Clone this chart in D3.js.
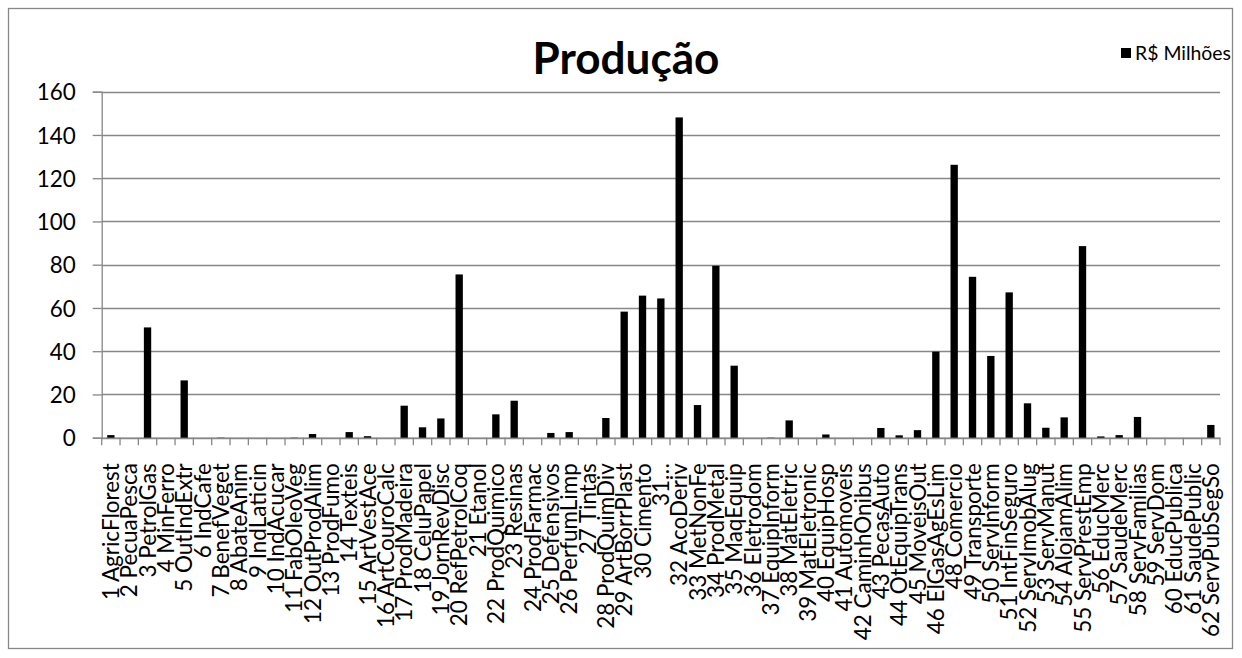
<!DOCTYPE html>
<html>
<head>
<meta charset="utf-8">
<script src="https://cdn.jsdelivr.net/npm/d3@7"></script>
<style>
  html, body { margin: 0; padding: 0; background: #fff; }
  svg { display: block; }
</style>
</head>
<body>
<svg id="chart" width="1242" height="658"></svg>
<script>
const categories = [
  "1 AgricFlorest","2 PecuaPesca","3 PetrolGas","4 MinFerro","5 OutIndExtr","6 IndCafe",
  "7 BenefVeget","8 AbateAnim","9 IndLaticin","10 IndAcucar","11 FabOleoVeg","12 OutProdAlim",
  "13 ProdFumo","14 Texteis","15 ArtVestAce","16 ArtCouroCalc","17 ProdMadeira","18 CeluPapel",
  "19 JornRevDisc","20 RefPetrolCoq","21 Etanol","22 ProdQuimico","23 Resinas","24 ProdFarmac",
  "25 Defensivos","26 PerfumLimp","27 Tintas","28 ProdQuimDiv","29 ArtBorrPlast","30 Cimento",
  "31…","32 AcoDeriv","33 MetNonFe","34 ProdMetal","35 MaqEquip","36 Eletrodom",
  "37 EquipInform","38 MatEletric","39 MatEletronic","40 EquipHosp","41 Automoveis","42 CaminhOnibus",
  "43 PecasAuto","44 OtEquipTrans","45 MoveisOut","46 ElGasAgEsLim","48 Comercio","49 Transporte",
  "50 ServInform","51 IntFinSeguro","52 ServImobAlug","53 ServManut","54 AlojamAlim","55 ServPrestEmp",
  "56 EducMerc","57 SaudeMerc","58 ServFamilias","59 ServDom","60 EducPublica","61 SaudePublic",
  "62 ServPubSegSo"
];
const values = [
  1.2, 0, 51.0, 0, 26.5, 0,
  0.1, 0, 0, 0, 0.1, 1.7,
  0, 2.6, 0.7, 0, 14.8, 4.8,
  8.9, 75.5, 0, 10.8, 17.1, 0,
  2.2, 2.6, 0, 9.1, 58.3, 65.7,
  64.4, 148.1, 15.1, 79.5, 33.3, 0,
  0.1, 8.0, 0, 1.5, 0, 0,
  4.5, 1.1, 3.5, 39.8, 126.2, 74.4,
  37.8, 67.2, 15.9, 4.6, 9.4, 88.6,
  0.6, 1.2, 9.6, 0, 0, 0,
  5.9
];
const yTicks = [0, 20, 40, 60, 80, 100, 120, 140, 160];
const titleText = "Produção";
const seriesName = "R$ Milhões";

const FONT = "Lato, 'Open Sans', sans-serif";
const GRID = "#878787";

const svg = d3.select("#chart");

// helper: set font-size so that text width matches target
function fitFont(sel, target) {
  sel.attr("font-size", 100);
  const w = sel.node().getComputedTextLength();
  const fs = 100 * target / w;
  sel.attr("font-size", fs);
  return fs;
}

// outer border
svg.append("rect")
  .attr("x", 8.5).attr("y", 8.5)
  .attr("width", 1224).attr("height", 640)
  .attr("fill", "#fff").attr("stroke", GRID).attr("stroke-width", 1.3);

const plot = { left: 101.7, right: 1220, top: 91.7, bottom: 437.7 };

const x = d3.scaleBand()
  .domain(categories)
  .range([plot.left, plot.right])
  .paddingInner(0.6).paddingOuter(0.3);

const y = d3.scaleLinear().domain([0, 160]).range([plot.bottom, plot.top]);

// measure font sizes
const probe = svg.append("text").attr("font-family", FONT).text("160");
const yFs = fitFont(probe, 39);
probe.text("1 AgricFlorest");
const xFs = fitFont(probe, 137);
probe.remove();

// gridlines
svg.append("g")
  .selectAll("line")
  .data(yTicks)
  .join("line")
  .attr("x1", plot.left).attr("x2", plot.right)
  .attr("y1", d => Math.round(y(d)) + 0.5).attr("y2", d => Math.round(y(d)) + 0.5)
  .attr("stroke", GRID).attr("stroke-width", 1.3);

// y axis
const yAxis = svg.append("g")
  .attr("transform", `translate(${plot.left},0)`)
  .call(d3.axisLeft(y).tickValues(yTicks).tickSize(9).tickPadding(17));
yAxis.select(".domain").attr("stroke", GRID).attr("stroke-width", 1.3);
yAxis.selectAll(".tick line").attr("stroke", GRID).attr("stroke-width", 1.3);
yAxis.selectAll(".tick text")
  .attr("font-family", FONT).attr("font-size", yFs).attr("fill", "#000")
  .attr("dy", "0.36em");

// x axis
const xAxis = svg.append("g")
  .attr("transform", `translate(0,${plot.bottom})`)
  .call(d3.axisBottom(x).tickSize(0).tickPadding(0));
xAxis.select(".domain").attr("stroke", GRID).attr("stroke-width", 1.3);
xAxis.selectAll(".tick text")
  .attr("font-family", FONT).attr("font-size", xFs).attr("fill", "#000")
  .attr("text-anchor", "end")
  .attr("transform", "rotate(-90)")
  .attr("x", -25.5).attr("y", 0).attr("dy", "0.36em");

// category boundary ticks
const step = x.step();
const boundaries = d3.range(categories.length + 1);
svg.append("g")
  .selectAll("line")
  .data(boundaries)
  .join("line")
  .attr("x1", i => plot.left + i * (plot.right - plot.left) / categories.length)
  .attr("x2", i => plot.left + i * (plot.right - plot.left) / categories.length)
  .attr("y1", plot.bottom).attr("y2", plot.bottom + 7.5)
  .attr("stroke", GRID).attr("stroke-width", 1.3);

// bars
svg.append("g")
  .selectAll("rect")
  .data(values)
  .join("rect")
  .attr("x", (d, i) => x(categories[i]))
  .attr("width", x.bandwidth())
  .attr("y", d => y(d))
  .attr("height", d => y(0) - y(d))
  .attr("fill", "#000");

// title
const title = svg.append("text")
  .attr("x", 626).attr("y", 74)
  .attr("text-anchor", "middle")
  .attr("font-family", FONT).attr("font-weight", "bold")
  .attr("fill", "#000")
  .text(titleText);
fitFont(title, 187);

// legend
const legend = svg.append("g");
legend.append("rect")
  .attr("x", 1121).attr("y", 48).attr("width", 10).attr("height", 10)
  .attr("fill", "#000");
const lt = legend.append("text")
  .attr("x", 1135).attr("y", 60)
  .attr("font-family", FONT).attr("fill", "#000")
  .text(seriesName);
fitFont(lt, 96);
</script>
</body>
</html>
